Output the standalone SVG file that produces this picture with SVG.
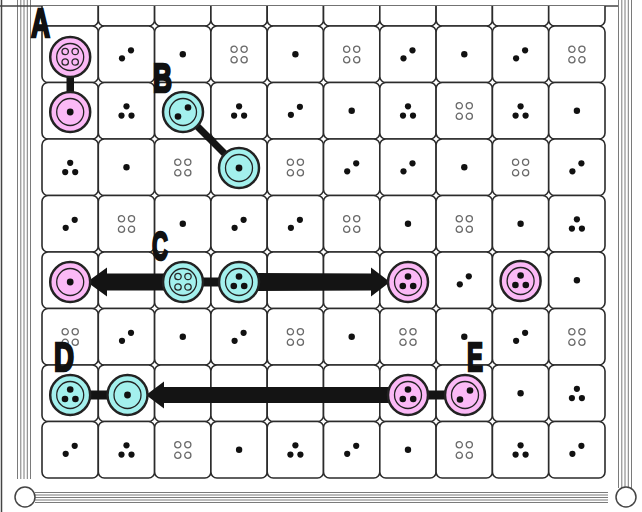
<svg xmlns="http://www.w3.org/2000/svg" xmlns:xlink="http://www.w3.org/1999/xlink" width="642" height="512" viewBox="0 0 642 512">
<style>
.cell{fill:#fff;stroke:#2b2b2b;stroke-width:1.6}
.dot{fill:#111}
.hol{fill:none;stroke:#6a6a6a;stroke-width:1.3}
.band{stroke:#7a7a7a;stroke-width:1}
.frame{fill:none;stroke:#444;stroke-width:1.5}
.pink{fill:#fbb9f6;stroke:#222;stroke-width:2.5}
.cyan{fill:#a3f0ed;stroke:#222;stroke-width:2.5}
.inner{fill:none;stroke:#222;stroke-width:1.3}
.bar{fill:#141414}
.lbl{font-family:"Liberation Sans",Arial,sans-serif;font-weight:bold;font-size:41px;fill:#111;stroke:#111;stroke-width:2.6;stroke-linejoin:miter}
</style>
<defs>
<clipPath id="gclip"><rect x="0" y="6" width="642" height="506"/></clipPath>
<rect id="c" x="0" y="0" width="56.3" height="56.5" rx="6" class="cell"/>
<g id="p1"><circle r="3.2" class="dot"/></g>
<g id="p2"><circle cx="-4.5" cy="4" r="3.1" class="dot"/><circle cx="4.5" cy="-4" r="3.1" class="dot"/></g>
<g id="p3"><circle cx="0" cy="-4.5" r="3.1" class="dot"/><circle cx="-5" cy="4.8" r="3.1" class="dot"/><circle cx="5" cy="4.8" r="3.1" class="dot"/></g>
<g id="p4"><circle cx="-5" cy="-5" r="3.1" class="hol"/><circle cx="5" cy="-5" r="3.1" class="hol"/><circle cx="-5" cy="5.5" r="3.1" class="hol"/><circle cx="5" cy="5.5" r="3.1" class="hol"/></g>
<g id="bp1"><circle r="3.4" class="dot"/></g>
<g id="bp2"><circle cx="-5" cy="4.5" r="3.3" class="dot"/><circle cx="5" cy="-4.5" r="3.3" class="dot"/></g>
<g id="bp3"><circle cx="0" cy="-5.5" r="3.3" class="dot"/><circle cx="-5.2" cy="4" r="3.3" class="dot"/><circle cx="5.2" cy="4" r="3.3" class="dot"/></g>
<g id="bp4"><circle cx="-5" cy="-5.5" r="3.2" class="hol" style="stroke:#2a2a2a"/><circle cx="5" cy="-5.5" r="3.2" class="hol" style="stroke:#2a2a2a"/><circle cx="-5" cy="5" r="3.2" class="hol" style="stroke:#2a2a2a"/><circle cx="5" cy="5" r="3.2" class="hol" style="stroke:#2a2a2a"/></g>
<g id="pinkb"><circle r="20" class="pink"/><circle r="13.5" class="inner"/></g>
<g id="cyanb"><circle r="20" class="cyan"/><circle r="13.5" class="inner"/></g>
</defs>

<!-- frame -->
<g id="frame">
<line x1="1.5" y1="0" x2="1.5" y2="512" class="frame"/>
<g class="band">
<line x1="17.5" y1="0" x2="17.5" y2="479"/><line x1="20.8" y1="0" x2="20.8" y2="479"/><line x1="24" y1="0" x2="24" y2="479"/><line x1="27.3" y1="0" x2="27.3" y2="479"/><line x1="30.5" y1="0" x2="30.5" y2="479"/>
<line x1="618.5" y1="0" x2="618.5" y2="488"/><line x1="621.8" y1="0" x2="621.8" y2="488"/><line x1="625" y1="0" x2="625" y2="488"/><line x1="628.3" y1="0" x2="628.3" y2="488"/><line x1="631.5" y1="0" x2="631.5" y2="488"/>
<line x1="35" y1="492.5" x2="608" y2="492.5"/><line x1="35" y1="495" x2="608" y2="495"/><line x1="35" y1="497.5" x2="608" y2="497.5"/><line x1="35" y1="500" x2="608" y2="500"/><line x1="35" y1="502.5" x2="608" y2="502.5"/>
</g>
<line x1="0" y1="6" x2="618" y2="6" class="frame"/>
<circle cx="25" cy="497" r="10" fill="#fff" stroke="#444" stroke-width="1.5"/>
<circle cx="626" cy="497" r="10" fill="#fff" stroke="#444" stroke-width="1.5"/>
</g>

<!-- grid -->
<g id="grid" clip-path="url(#gclip)">
<g id="row0">
<use xlink:href="#c" x="42" y="-30.5"/><use xlink:href="#c" x="98.3" y="-30.5"/><use xlink:href="#c" x="154.6" y="-30.5"/><use xlink:href="#c" x="210.9" y="-30.5"/><use xlink:href="#c" x="267.2" y="-30.5"/><use xlink:href="#c" x="323.5" y="-30.5"/><use xlink:href="#c" x="379.8" y="-30.5"/><use xlink:href="#c" x="436.1" y="-30.5"/><use xlink:href="#c" x="492.4" y="-30.5"/><use xlink:href="#c" x="548.7" y="-30.5"/>
</g>
<g id="cells">
<use xlink:href="#c" x="42" y="26"/><use xlink:href="#c" x="98.3" y="26"/><use xlink:href="#c" x="154.6" y="26"/><use xlink:href="#c" x="210.9" y="26"/><use xlink:href="#c" x="267.2" y="26"/><use xlink:href="#c" x="323.5" y="26"/><use xlink:href="#c" x="379.8" y="26"/><use xlink:href="#c" x="436.1" y="26"/><use xlink:href="#c" x="492.4" y="26"/><use xlink:href="#c" x="548.7" y="26"/>
<use xlink:href="#c" x="42" y="82.5"/><use xlink:href="#c" x="98.3" y="82.5"/><use xlink:href="#c" x="154.6" y="82.5"/><use xlink:href="#c" x="210.9" y="82.5"/><use xlink:href="#c" x="267.2" y="82.5"/><use xlink:href="#c" x="323.5" y="82.5"/><use xlink:href="#c" x="379.8" y="82.5"/><use xlink:href="#c" x="436.1" y="82.5"/><use xlink:href="#c" x="492.4" y="82.5"/><use xlink:href="#c" x="548.7" y="82.5"/>
<use xlink:href="#c" x="42" y="139"/><use xlink:href="#c" x="98.3" y="139"/><use xlink:href="#c" x="154.6" y="139"/><use xlink:href="#c" x="210.9" y="139"/><use xlink:href="#c" x="267.2" y="139"/><use xlink:href="#c" x="323.5" y="139"/><use xlink:href="#c" x="379.8" y="139"/><use xlink:href="#c" x="436.1" y="139"/><use xlink:href="#c" x="492.4" y="139"/><use xlink:href="#c" x="548.7" y="139"/>
<use xlink:href="#c" x="42" y="195.5"/><use xlink:href="#c" x="98.3" y="195.5"/><use xlink:href="#c" x="154.6" y="195.5"/><use xlink:href="#c" x="210.9" y="195.5"/><use xlink:href="#c" x="267.2" y="195.5"/><use xlink:href="#c" x="323.5" y="195.5"/><use xlink:href="#c" x="379.8" y="195.5"/><use xlink:href="#c" x="436.1" y="195.5"/><use xlink:href="#c" x="492.4" y="195.5"/><use xlink:href="#c" x="548.7" y="195.5"/>
<use xlink:href="#c" x="42" y="252"/><use xlink:href="#c" x="98.3" y="252"/><use xlink:href="#c" x="154.6" y="252"/><use xlink:href="#c" x="210.9" y="252"/><use xlink:href="#c" x="267.2" y="252"/><use xlink:href="#c" x="323.5" y="252"/><use xlink:href="#c" x="379.8" y="252"/><use xlink:href="#c" x="436.1" y="252"/><use xlink:href="#c" x="492.4" y="252"/><use xlink:href="#c" x="548.7" y="252"/>
<use xlink:href="#c" x="42" y="308.5"/><use xlink:href="#c" x="98.3" y="308.5"/><use xlink:href="#c" x="154.6" y="308.5"/><use xlink:href="#c" x="210.9" y="308.5"/><use xlink:href="#c" x="267.2" y="308.5"/><use xlink:href="#c" x="323.5" y="308.5"/><use xlink:href="#c" x="379.8" y="308.5"/><use xlink:href="#c" x="436.1" y="308.5"/><use xlink:href="#c" x="492.4" y="308.5"/><use xlink:href="#c" x="548.7" y="308.5"/>
<use xlink:href="#c" x="42" y="365"/><use xlink:href="#c" x="98.3" y="365"/><use xlink:href="#c" x="154.6" y="365"/><use xlink:href="#c" x="210.9" y="365"/><use xlink:href="#c" x="267.2" y="365"/><use xlink:href="#c" x="323.5" y="365"/><use xlink:href="#c" x="379.8" y="365"/><use xlink:href="#c" x="436.1" y="365"/><use xlink:href="#c" x="492.4" y="365"/><use xlink:href="#c" x="548.7" y="365"/>
<use xlink:href="#c" x="42" y="421.5"/><use xlink:href="#c" x="98.3" y="421.5"/><use xlink:href="#c" x="154.6" y="421.5"/><use xlink:href="#c" x="210.9" y="421.5"/><use xlink:href="#c" x="267.2" y="421.5"/><use xlink:href="#c" x="323.5" y="421.5"/><use xlink:href="#c" x="379.8" y="421.5"/><use xlink:href="#c" x="436.1" y="421.5"/><use xlink:href="#c" x="492.4" y="421.5"/><use xlink:href="#c" x="548.7" y="421.5"/>
</g>
</g>

<!-- pips -->
<g id="pips">
<use xlink:href="#p2" x="126.5" y="54.3"/><use xlink:href="#p1" x="182.8" y="54.3"/><use xlink:href="#p4" x="239.1" y="54.3"/><use xlink:href="#p1" x="295.4" y="54.3"/><use xlink:href="#p4" x="351.7" y="54.3"/><use xlink:href="#p2" x="408" y="54.3"/><use xlink:href="#p1" x="464.3" y="54.3"/><use xlink:href="#p2" x="520.6" y="54.3"/><use xlink:href="#p4" x="576.9" y="54.3"/>
<use xlink:href="#p3" x="126.5" y="110.8"/><use xlink:href="#p3" x="239.1" y="110.8"/><use xlink:href="#p2" x="295.4" y="110.8"/><use xlink:href="#p1" x="351.7" y="110.8"/><use xlink:href="#p3" x="408" y="110.8"/><use xlink:href="#p4" x="464.3" y="110.8"/><use xlink:href="#p3" x="520.6" y="110.8"/><use xlink:href="#p1" x="576.9" y="110.8"/>
<use xlink:href="#p3" x="70.2" y="167.3"/><use xlink:href="#p1" x="126.5" y="167.3"/><use xlink:href="#p4" x="182.8" y="167.3"/><use xlink:href="#p4" x="295.4" y="167.3"/><use xlink:href="#p2" x="351.7" y="167.3"/><use xlink:href="#p2" x="408" y="167.3"/><use xlink:href="#p1" x="464.3" y="167.3"/><use xlink:href="#p4" x="520.6" y="167.3"/><use xlink:href="#p2" x="576.9" y="167.3"/>
<use xlink:href="#p2" x="70.2" y="223.8"/><use xlink:href="#p4" x="126.5" y="223.8"/><use xlink:href="#p1" x="182.8" y="223.8"/><use xlink:href="#p2" x="239.1" y="223.8"/><use xlink:href="#p2" x="295.4" y="223.8"/><use xlink:href="#p4" x="351.7" y="223.8"/><use xlink:href="#p1" x="408" y="223.8"/><use xlink:href="#p4" x="464.3" y="223.8"/><use xlink:href="#p1" x="520.6" y="223.8"/><use xlink:href="#p3" x="576.9" y="223.8"/>
<use xlink:href="#p2" x="464.3" y="280.3"/><use xlink:href="#p1" x="576.9" y="280.3"/>
<use xlink:href="#p4" x="70.2" y="336.8"/><use xlink:href="#p2" x="126.5" y="336.8"/><use xlink:href="#p1" x="182.8" y="336.8"/><use xlink:href="#p2" x="239.1" y="336.8"/><use xlink:href="#p4" x="295.4" y="336.8"/><use xlink:href="#p1" x="351.7" y="336.8"/><use xlink:href="#p4" x="408" y="336.8"/><use xlink:href="#p1" x="464.3" y="336.8"/><use xlink:href="#p2" x="520.6" y="336.8"/><use xlink:href="#p4" x="576.9" y="336.8"/>
<use xlink:href="#p1" x="520.6" y="393.3"/><use xlink:href="#p3" x="576.9" y="393.3"/>
<use xlink:href="#p2" x="70.2" y="449.8"/><use xlink:href="#p3" x="126.5" y="449.8"/><use xlink:href="#p4" x="182.8" y="449.8"/><use xlink:href="#p1" x="239.1" y="449.8"/><use xlink:href="#p3" x="295.4" y="449.8"/><use xlink:href="#p2" x="351.7" y="449.8"/><use xlink:href="#p1" x="408" y="449.8"/><use xlink:href="#p4" x="464.3" y="449.8"/><use xlink:href="#p3" x="520.6" y="449.8"/><use xlink:href="#p2" x="576.9" y="449.8"/>
</g>

<!-- connectors -->
<g id="connectors">
<rect class="bar" x="66.5" y="74" width="7.5" height="22"/>
<line x1="183" y1="112" x2="239" y2="168" stroke="#141414" stroke-width="7"/>
<rect class="bar" x="200" y="277.5" width="22" height="9"/>
<path class="bar" d="M87,282 L107,267.5 L107,273.5 L166,273.5 L166,290.5 L107,290.5 L107,296.5 Z"/>
<path class="bar" d="M256,273 L371,273.5 L371,267.5 L390,282 L371,296.5 L371,290.5 L256,291 Z"/>
<rect class="bar" x="88" y="390.5" width="22" height="9"/>
<path class="bar" d="M146,395 L164,381.5 L164,387 L392,387 L392,403 L164,403 L164,408.5 Z"/>
<rect class="bar" x="425" y="390.5" width="24" height="9"/>
</g>

<!-- buttons -->
<g id="A1" transform="translate(70.2,57)"><use xlink:href="#pinkb"/><use xlink:href="#bp4"/></g>
<g id="A2" transform="translate(70.2,112)"><use xlink:href="#pinkb"/><use xlink:href="#bp1"/></g>
<g id="B1" transform="translate(183,112)"><use xlink:href="#cyanb"/><use xlink:href="#bp2"/></g>
<g id="B2" transform="translate(239,168)"><use xlink:href="#cyanb"/><use xlink:href="#bp1"/></g>
<g id="C0" transform="translate(70.2,282)"><use xlink:href="#pinkb"/><use xlink:href="#bp1"/></g>
<g id="C1" transform="translate(183,282)"><use xlink:href="#cyanb"/><use xlink:href="#bp4"/></g>
<g id="C2" transform="translate(239,282)"><use xlink:href="#cyanb"/><use xlink:href="#bp3"/></g>
<g id="C3" transform="translate(408,282)"><use xlink:href="#pinkb"/><use xlink:href="#bp3"/></g>
<g id="C4" transform="translate(520.6,281)"><use xlink:href="#pinkb"/><use xlink:href="#bp3"/></g>
<g id="D1" transform="translate(70.2,395)"><use xlink:href="#cyanb"/><use xlink:href="#bp3"/></g>
<g id="D2" transform="translate(127.5,395)"><use xlink:href="#cyanb"/><use xlink:href="#bp1"/></g>
<g id="E1" transform="translate(408,395)"><use xlink:href="#pinkb"/><use xlink:href="#bp3"/></g>
<g id="E2" transform="translate(465,395)"><use xlink:href="#pinkb"/><use xlink:href="#bp2"/></g>

<!-- labels -->
<g id="labels">
<text class="lbl" x="31" y="37" textLength="19" lengthAdjust="spacingAndGlyphs">A</text>
<text class="lbl" x="153" y="92" textLength="19" lengthAdjust="spacingAndGlyphs">B</text>
<text class="lbl" x="152" y="260" textLength="16" lengthAdjust="spacingAndGlyphs">C</text>
<text class="lbl" x="54" y="371" textLength="20" lengthAdjust="spacingAndGlyphs">D</text>
<text class="lbl" x="467" y="371" textLength="16" lengthAdjust="spacingAndGlyphs">E</text>
</g>
</svg>
